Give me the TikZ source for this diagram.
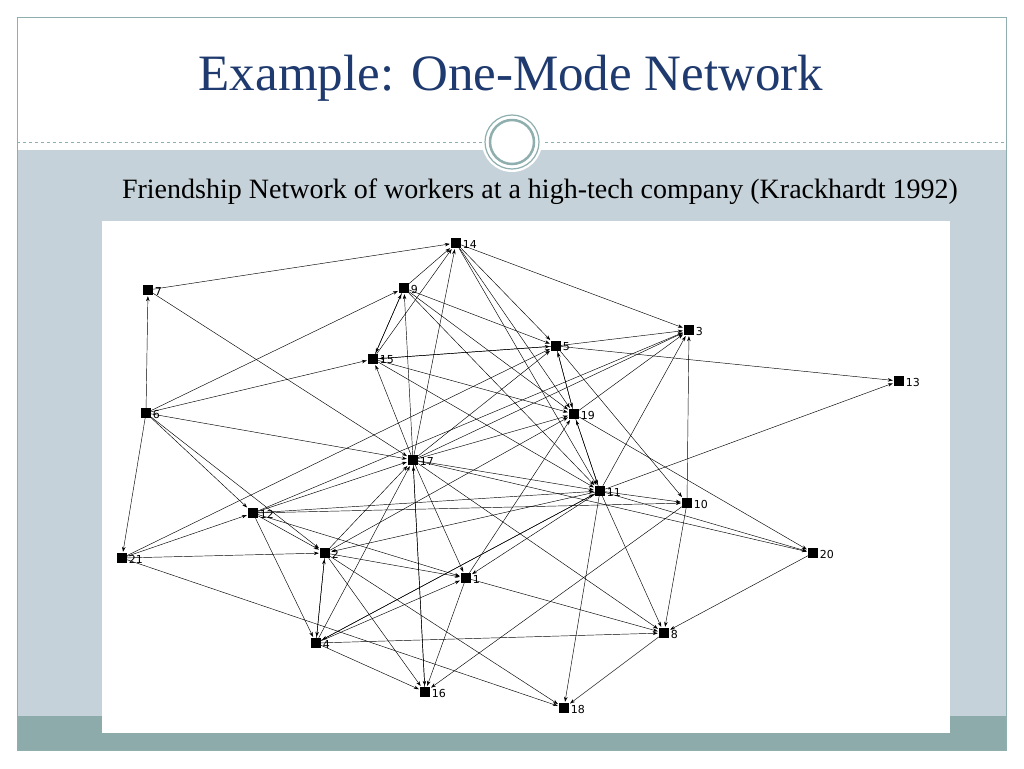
\documentclass[tikz,border=0pt]{standalone}
\usepackage{fontspec}
\setmainfont{Liberation Serif}
\newfontfamily\lbl{DejaVu Sans}
\usetikzlibrary{arrows.meta}
\definecolor{navy}{HTML}{1F3A6E}
\definecolor{bandc}{HTML}{C6D2D9}
\definecolor{barc}{HTML}{8EABAB}
\definecolor{framec}{HTML}{8FAFAF}
\begin{document}
\begin{tikzpicture}[x=1pt,y=-1pt,
  v/.style={fill=black,minimum size=10pt,inner sep=0pt,draw=none},
  lab/.style={font=\lbl\fontsize{11}{11}\selectfont,inner sep=0pt,anchor=west},
  e/.style={-{Stealth[length=5pt,width=3.5pt]},line width=0.45pt,shorten >=1pt}]
\useasboundingbox (0,0) rectangle (1024,768);
\fill[white] (0,0) rectangle (1024,768);
\fill[bandc] (17,150) rectangle (1006,716);
\fill[barc] (17,716) rectangle (1006,750);
\draw[framec,line width=0.8pt] (17,17) rectangle (1006,750);
\draw[framec,dashed,line width=0.6pt] (17,142) -- (1006,142);
\fill[white] (512,142) circle (30);
\draw[framec,line width=1.2pt] (512,142) circle (27);
\draw[framec,line width=2.5pt] (512,142) circle (22);
\node[navy,font=\fontsize{51}{51}\selectfont] (title) at (511,78) {Example: One-Mode Network};
\node[font=\fontsize{28}{28}\selectfont] (sub) at (540,192) {Friendship Network of workers at a high-tech company (Krackhardt 1992)};
\fill[white] (102,221) rectangle (950,733);
\foreach \n/\x/\y in {14/456/243,7/148/290,9/404/288,3/689/330,5/556/346,15/373/359,13/899/381,6/146/413,19/574/414,17/413/460,11/600/491,10/687/503,12/253/513,20/813/553,21/122/558,2/325/553,1/466/578,8/664/633,4/316/643,16/425/692,18/564/708}{
  \node[v] (n\n) at (\x,\y) {};
  \node[lab] (l\n) at ([xshift=1.5pt,yshift=-1pt]n\n.east) {\n};
}
\foreach \a/\b in {7/14,7/17,6/7,6/9,6/15,6/17,6/21,6/12,6/2,9/15,15/9,9/5,9/19,9/11,15/14,17/9,17/15,17/14,14/5,14/19,14/3,15/5,5/15,15/19,15/11,17/5,17/19,17/3,17/11,17/1,17/16,17/8,17/20,5/19,19/5,19/11,11/19,5/3,5/13,5/10,19/3,19/20,11/3,10/3,11/13,11/10,11/20,11/8,11/18,11/2,11/1,11/4,10/8,10/16,12/17,12/10,12/11,12/2,12/1,12/4,21/12,21/2,21/18,21/5,2/17,2/1,2/16,2/18,2/19,4/2,2/4,4/17,4/1,4/11,4/8,4/16,1/16,1/8,1/19,16/17,20/8,8/18,12/3,9/14,14/11}{
  \draw[e] (n\a) -- (n\b);
}
\end{tikzpicture}
\end{document}
